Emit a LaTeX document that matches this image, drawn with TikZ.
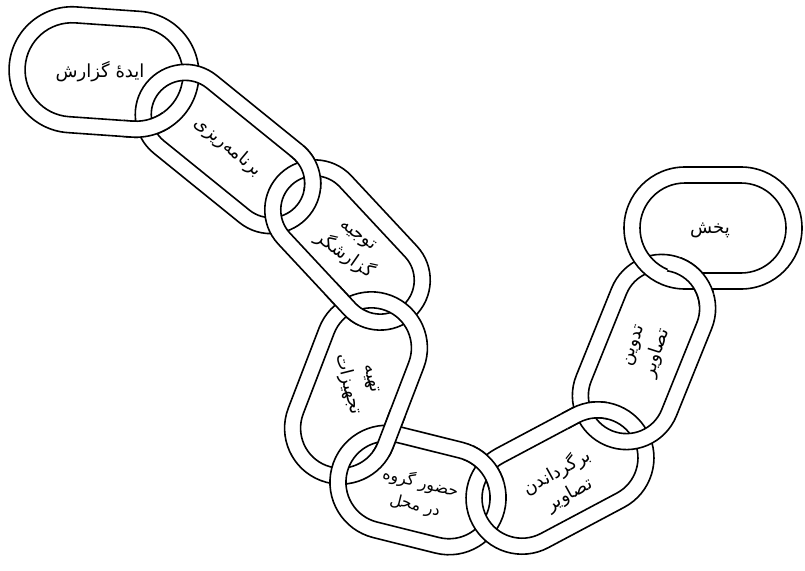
\documentclass[tikz,border=0pt]{standalone}
\usepackage{fontspec}
\newfontfamily\arabicfont[Script=Arabic]{DejaVu Sans}
\TeXXeTstate=1
\tikzset{
  ringline/.style={line width=1.6pt, line join=round},
  linktext/.style={font=\arabicfont\fontsize{18}{25}\selectfont, align=center, inner sep=0pt},
  smalltext/.style={font=\arabicfont\fontsize{16}{23}\selectfont, align=center, inner sep=0pt},
}
\newcommand\chainlink[5]{%
  \begin{scope}[shift={(#1,#2)},rotate=#3]
    \pgfmathsetmacro\lkri{#5-16}%
    \fill[white,even odd rule]
      (-#4,-#5) -- (#4,-#5) arc[start angle=-90,end angle=90,radius=#5] -- (-#4,#5) arc[start angle=90,end angle=270,radius=#5] -- cycle
      (-#4,-\lkri) -- (#4,-\lkri) arc[start angle=-90,end angle=90,radius=\lkri] -- (-#4,\lkri) arc[start angle=90,end angle=270,radius=\lkri] -- cycle;
    \draw[ringline] (-#4,-#5) -- (#4,-#5) arc[start angle=-90,end angle=90,radius=#5] -- (-#4,#5) arc[start angle=90,end angle=270,radius=#5] -- cycle;
    \draw[ringline] (-#4,-\lkri) -- (#4,-\lkri) arc[start angle=-90,end angle=90,radius=\lkri] -- (-#4,\lkri) arc[start angle=90,end angle=270,radius=\lkri] -- cycle;
  \end{scope}}
\newcommand\linkone{\chainlink{104}{72}{-4}{32}{63}}
\newcommand\linktwo{\chainlink{228}{149}{-39}{55}{50}}
\newcommand\linkthree{\chainlink{347.5}{245}{-47}{48}{50}}
\newcommand\linkfour{\chainlink{356}{388}{69}{43}{56}}
\newcommand\linkfive{\chainlink{418}{490}{-14}{32}{57}}
\newcommand\linksix{\chainlink{560}{478}{28}{43}{56}}
\newcommand\linkseven{\chainlink{644}{352}{68}{47}{54}}
\newcommand\linkeight{\chainlink{713}{228}{0}{28}{61}}
\begin{document}
\begin{tikzpicture}[x=1pt,y=-1pt]
\fill[white] (0,0) rectangle (805,570);
\useasboundingbox (0,0) rectangle (805,570);
\linkone
\linktwo
\begin{scope}\clip (146,129) circle (24); \linkone \end{scope}
\linkthree
\begin{scope}\clip (310,168) circle (24); \linktwo \end{scope}
\linkfour
\begin{scope}\clip (346,305) circle (24); \linkthree \end{scope}
\linkfive
\begin{scope}\clip (388,433) circle (24); \linkfour \end{scope}
\linksix
\begin{scope}\clip (486,466) circle (24); \linkfive \end{scope}
\linkseven
\begin{scope}\clip (585,412) circle (24); \linksix \end{scope}
\linkeight
\begin{scope}\clip (691,281) circle (26); \linkseven \end{scope}

\node[linktext] (t1) at (100,72) {\beginR ایدهٔ گزارش\endR};
\node[linktext, rotate=-40] (t2) at (228,147) {\beginR برنامه‌ریزی\endR};
\node[linktext, rotate=-35] (t3) at (350,247) {\beginR توجیه\endR\\\beginR گزارشگر\endR};
\node[linktext, rotate=-76] (t4) at (358,382) {\beginR تهیه\endR\\\beginR تجهیزات\endR};
\node[smalltext, rotate=-14] (t5) at (418,494) {\beginR حضور گروه\endR\\\beginR در محل\endR};
\node[linktext, rotate=29] (t6) at (563,483) {\beginR برگرداندن\endR\\\beginR تصاویر\endR};
\node[linktext, rotate=72] (t7) at (647,350) {\beginR تدوین\endR\\\beginR تصاویر\endR};
\node[linktext] (t8) at (710,230) {\beginR پخش\endR};
\end{tikzpicture}
\end{document}
